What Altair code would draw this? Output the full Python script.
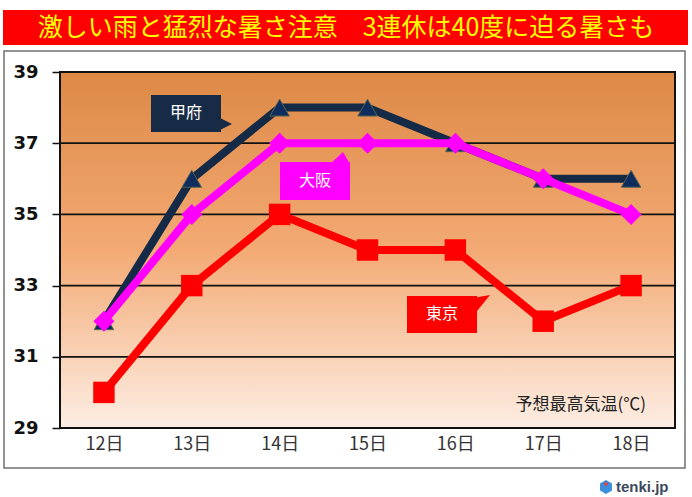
import altair as alt
import pandas as pd

# ---- data ----
days = ["12日", "13日", "14日", "15日", "16日", "17日", "18日"]
kofu = [32, 36, 38, 38, 37, 36, 36]
osaka = [32, 35, 37, 37, 37, 36, 35]
tokyo = [30, 33, 35, 34, 34, 32, 33]
series_names = ["甲府", "大阪", "東京"]
y_ticks = [29, 31, 33, 35, 37, 39]
grid_values = [31, 33, 35, 37]
title_text = "激しい雨と猛烈な暑さ注意　3連休は40度に迫る暑さも"
note_text = "予想最高気温(℃)"
brand_text = "tenki.jp"

W, H = 615, 356
JP = "Noto Sans CJK JP"

rows = []
for name, vals in zip(series_names, [kofu, osaka, tokyo]):
    for d, v in zip(days, vals):
        rows.append({"city": name, "day": d, "temp": v})
df = pd.DataFrame(rows)
one = pd.DataFrame({"a": [0]})

yscale = alt.Scale(domain=[29, 39], nice=False, zero=False)
x_enc = alt.X("day:N", sort=days, scale=alt.Scale(type="point", padding=0.5),
              axis=alt.Axis(title=None, ticks=False, domain=False, grid=False,
                            labelPadding=7, labelFontSize=18, labelFont=JP,
                            labelColor="#333333", labelAngle=0, zindex=1))
y_axis = alt.Axis(title=None, values=y_ticks, grid=False, domain=False,
                  tickSize=8, tickColor="#111111", tickWidth=1.5,
                  labelFontSize=18, labelFontWeight="bold",
                  labelFont="DejaVu Sans", labelColor="#111111",
                  labelPadding=14, zindex=1)
y_enc = alt.Y("temp:Q", scale=yscale, axis=y_axis)


def box(x1, y1, x2, y2, **kw):
    return alt.Chart(one).mark_rect(**kw).encode(
        x=alt.value(x1), x2=alt.value(x2), y=alt.value(y1), y2=alt.value(y2))


def label(txt, x, y, **kw):
    return alt.Chart(one).mark_text(text=txt, **kw).encode(x=alt.value(x), y=alt.value(y))


def tail(path, x, y, color):
    return alt.Chart(one).mark_point(shape=path, size=4, filled=True, fill=color,
                                     opacity=1, strokeWidth=0).encode(
        x=alt.value(x), y=alt.value(y))


# frame + title bar
outer = box(-56, -21, 625, 396, fill="white", stroke="#6f6f6f", strokeWidth=1.5)
redbar = box(-57, -62, 628, -27, fill="#FF0000")
title = label(title_text, 286, -44, fontSize=25, color="#FFFF00", font=JP,
              align="center", baseline="middle")

grad = alt.Gradient(gradient="linear",
                    stops=[alt.GradientStop(color="#DD8946", offset=0),
                           alt.GradientStop(color="#F3AA74", offset=0.5),
                           alt.GradientStop(color="#FDEEE4", offset=1)],
                    x1=0, x2=0, y1=0, y2=1)
bg = box(0, 0, W, H, fill=grad)

grid = alt.Chart(pd.DataFrame({"temp": grid_values})).mark_rule(
    color="#111111", strokeWidth=1.8).encode(y=y_enc)
border = box(0, 0, W, H, filled=False, stroke="#111111", strokeWidth=2)


def series(name, color, shape, size, fill, stroke, sw):
    base = alt.Chart(df).transform_filter(alt.datum.city == name)
    line = base.mark_line(color=color, strokeWidth=8, strokeJoin="round").encode(x=x_enc, y=y_enc)
    pts = base.mark_point(shape=shape, size=size, filled=True, fill=fill, opacity=1,
                          stroke=stroke, strokeWidth=sw).encode(x=x_enc, y=y_enc)
    return [line, pts]


layers_kofu = series("甲府", "#152A46", "triangle-up", 380, "#0E2C5E", "#56664f", 1)
layers_osaka = series("大阪", "#FF00FF", "diamond", 440, "#FF00FF", "#FF00FF", 0)
layers_tokyo = series("東京", "#FF0000", "square", 460, "#FF0000", "#FF0000", 0)

# callouts
kofu_box = box(91, 23, 161, 60, fill="#172B47")
kofu_tail = tail("M-2,0 L12,7 L0,13 L-2,13 Z", 160, 45, "#172B47")
kofu_txt = label("甲府", 126, 41, fontSize=16, color="white", font=JP, align="center", baseline="middle")

osaka_box = box(220, 90, 290, 128, fill="#FF00FF")
osaka_tail = tail("M0,2 L13,-10 L20,2 Z", 270, 90, "#FF00FF")
osaka_txt = label("大阪", 255, 109, fontSize=16, color="white", font=JP, align="center", baseline="middle")

tokyo_box = box(347, 224, 417, 261, fill="#FF0000")
tokyo_tail = tail("M0,2 L23,-2 L10,14 L0,14 Z", 407, 225, "#FF0000")
tokyo_txt = label("東京", 382, 242, fontSize=16, color="white", font=JP, align="center", baseline="middle")

note = label(note_text, 586, 333, fontSize=17, color="#222222", font=JP, align="right", baseline="middle")

# brand
icon = alt.Chart(one).mark_point(shape="M0,-7 L6,-3.5 L6,3.5 L0,7 L-6,3.5 L-6,-3.5 Z", size=4,
                                 filled=True, fill="#3B8FDB", opacity=1).encode(
    x=alt.value(546), y=alt.value(415))
icon_dot = alt.Chart(one).mark_point(shape="circle", size=14, filled=True, fill="#E8413C",
                                     opacity=1).encode(x=alt.value(546), y=alt.value(412))
brand = label(brand_text, 556, 415, fontSize=15, fontWeight="bold", color="#3B4A5E",
              font="Liberation Sans", align="left", baseline="middle")

chart = alt.layer(
    outer, redbar, title, bg, grid, border,
    *layers_kofu, *layers_osaka, *layers_tokyo,
    kofu_box, kofu_tail, kofu_txt,
    osaka_box, osaka_tail, osaka_txt,
    tokyo_box, tokyo_tail, tokyo_txt,
    note, icon, icon_dot, brand,
).properties(
    width=W, height=H,
    autosize=alt.AutoSizeParams(type="none"),
    padding={"left": 60, "top": 72, "right": 17, "bottom": 69},
    background="white",
).configure_view(stroke=None)

chart.save("out.html", embed_options={"renderer": "svg", "actions": False})
